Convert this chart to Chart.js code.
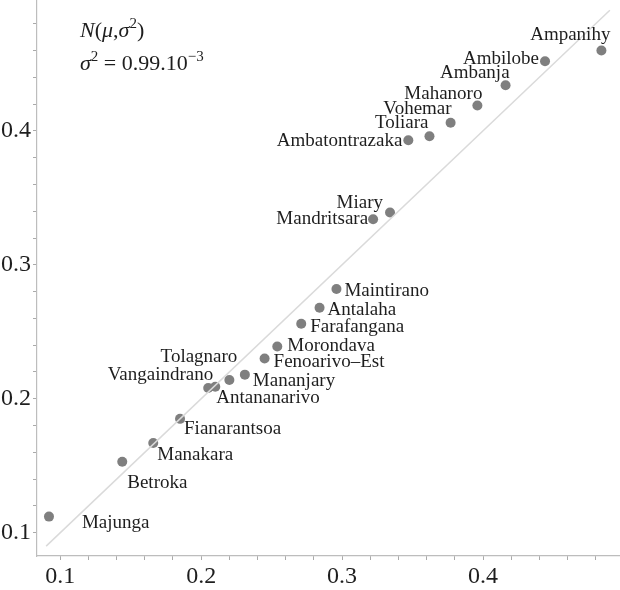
<!DOCTYPE html>
<html>
<head>
<meta charset="utf-8">
<script src="https://cdn.jsdelivr.net/npm/chart.js@4"></script>
<style>
    body { margin: 0; background: #fff; }
    #wrap { width: 620px; height: 590px; }
</style>
</head>
<body>
<div id="wrap"><canvas id="chart" width="620" height="590"></canvas></div>
<script>
// districts, observed (x) vs expected (y)
const districts = ['Majunga', 'Betroka', 'Manakara', 'Fianarantsoa', 'Vangaindrano', 'Antananarivo',
    'Tolagnaro', 'Mananjary', 'Fenoarivo\u2013Est', 'Morondava', 'Farafangana', 'Antalaha', 'Maintirano',
    'Mandritsara', 'Miary', 'Ambatontrazaka', 'Toliara', 'Vohemar', 'Mahanoro', 'Ambanja', 'Ambilobe', 'Ampanihy'];
const xValues = [0.092, 0.144, 0.166, 0.185, 0.205, 0.210, 0.220, 0.231, 0.245, 0.254, 0.271, 0.284, 0.296,
    0.322, 0.334, 0.347, 0.362, 0.377, 0.396, 0.416, 0.444, 0.484];
const yValues = [0.112, 0.153, 0.167, 0.185, 0.208, 0.209, 0.214, 0.218, 0.230, 0.239, 0.256, 0.268, 0.282,
    0.334, 0.339, 0.393, 0.396, 0.406, 0.419, 0.434, 0.452, 0.460];
const refLine = [0.09, 0.49];
const tickValues = [0.1, 0.12, 0.14, 0.16, 0.18, 0.2, 0.22, 0.24, 0.26, 0.28, 0.3, 0.32, 0.34, 0.36, 0.38, 0.4, 0.42, 0.44, 0.46, 0.48];
const tickLabels = ['0.1', '0.2', '0.3', '0.4'];

// where each label sits relative to its dot: [dx, dy, align]
const labelPlace = [
    [33, 6, 'left'], [5, 21, 'left'], [4, 12, 'left'], [4, 10, 'left'], [5, -13, 'right'], [1, 11, 'left'],
    [8, -23, 'right'], [8, 6, 'left'], [9, 3, 'left'], [10, 0, 'left'], [9, 3, 'left'], [8, 2, 'left'], [8, 2, 'left'],
    [-5, 0, 'right'], [-7, -10, 'right'], [-6, 1, 'right'], [-1, -13, 'right'], [1, -14, 'right'], [5, -11, 'right'],
    [4, -12, 'right'], [-6, -2, 'right'], [9, -15, 'right']
];

const serif = '"Liberation Serif", "DejaVu Serif", serif';

function tickLabel(value) {
    const hit = tickLabels.find(t => Math.abs(parseFloat(t) - value) < 1e-6);
    return hit ? hit : '';
}

const pointLabels = {
    id: 'pointLabels',
    afterDatasetsDraw(chart) {
        const ctx = chart.ctx;
        const meta = chart.getDatasetMeta(1);
        ctx.save();
        ctx.font = '19px ' + serif;
        ctx.fillStyle = '#1e1e1e';
        ctx.textBaseline = 'middle';
        meta.data.forEach((pt, i) => {
            const p = labelPlace[i];
            ctx.textAlign = p[2];
            ctx.fillText(districts[i], pt.x + p[0], pt.y + p[1]);
        });
        ctx.restore();
    }
};

// N(mu, sigma^2) note in the corner
function drawParts(ctx, x, y, parts) {
    parts.forEach(part => {
        const [text, italic, sup] = part;
        const size = sup ? 15 : 22;
        ctx.font = (italic ? 'italic ' : '') + size + 'px ' + serif;
        ctx.fillText(text, x, sup ? y - 9 : y);
        x += ctx.measureText(text).width;
    });
}

const note = {
    id: 'note',
    afterDraw(chart) {
        const ctx = chart.ctx;
        ctx.save();
        ctx.fillStyle = '#1e1e1e';
        ctx.textBaseline = 'alphabetic';
        ctx.textAlign = 'left';
        drawParts(ctx, 80, 37, [['N', true], ['(', false], ['\u03bc', true], [',', false], ['\u03c3', true], ['2', false, true], [')', false]]);
        drawParts(ctx, 80, 70, [['\u03c3', true], ['2', false, true], [' = 0.99.10', false], ['\u22123', false, true]]);
        ctx.restore();
    }
};

function axis(min, max, fit) {
    return {
        type: 'linear',
        min: min,
        max: max,
        afterBuildTicks: scale => { scale.ticks = tickValues.map(v => ({ value: v })); },
        afterFit: s => {
            fit(s);
            s.paddingTop = 0;
            s.paddingBottom = 0;
            s.paddingLeft = 0;
            s.paddingRight = 0;
        },
        border: { color: '#bdbdbd', width: 1.2 },
        grid: { drawOnChartArea: false, drawTicks: true, tickLength: 4, tickColor: '#aaa' },
        ticks: {
            autoSkip: false,
            maxRotation: 0,
            padding: 2,
            color: '#1e1e1e',
            font: { family: serif, size: 24 },
            callback: v => tickLabel(v)
        }
    };
}

const ctx = document.getElementById('chart').getContext('2d');
const myChart = new Chart(ctx, {
    type: 'scatter',
    data: {
        datasets: [{
            type: 'line',
            data: refLine.map(v => ({ x: v, y: v })),
            borderColor: '#dadada',
            borderWidth: 1.5,
            pointRadius: 0,
            fill: false
        }, {
            data: xValues.map((x, i) => ({ x: x, y: yValues[i] })),
            backgroundColor: '#7f7f7f',
            borderWidth: 0,
            pointRadius: 5,
            pointHoverRadius: 5
        }]
    },
    options: {
        responsive: false,
        animation: false,
        layout: { padding: 0, autoPadding: false },
        plugins: { legend: { display: false }, tooltip: { enabled: false } },
        scales: {
            x: axis(0.0835, 0.4972, s => { s.height = 34; }),
            y: axis(0.0826, 0.4977, s => { s.width = 37; })
        }
    },
    plugins: [pointLabels, note]
});
</script>
</body>
</html>
